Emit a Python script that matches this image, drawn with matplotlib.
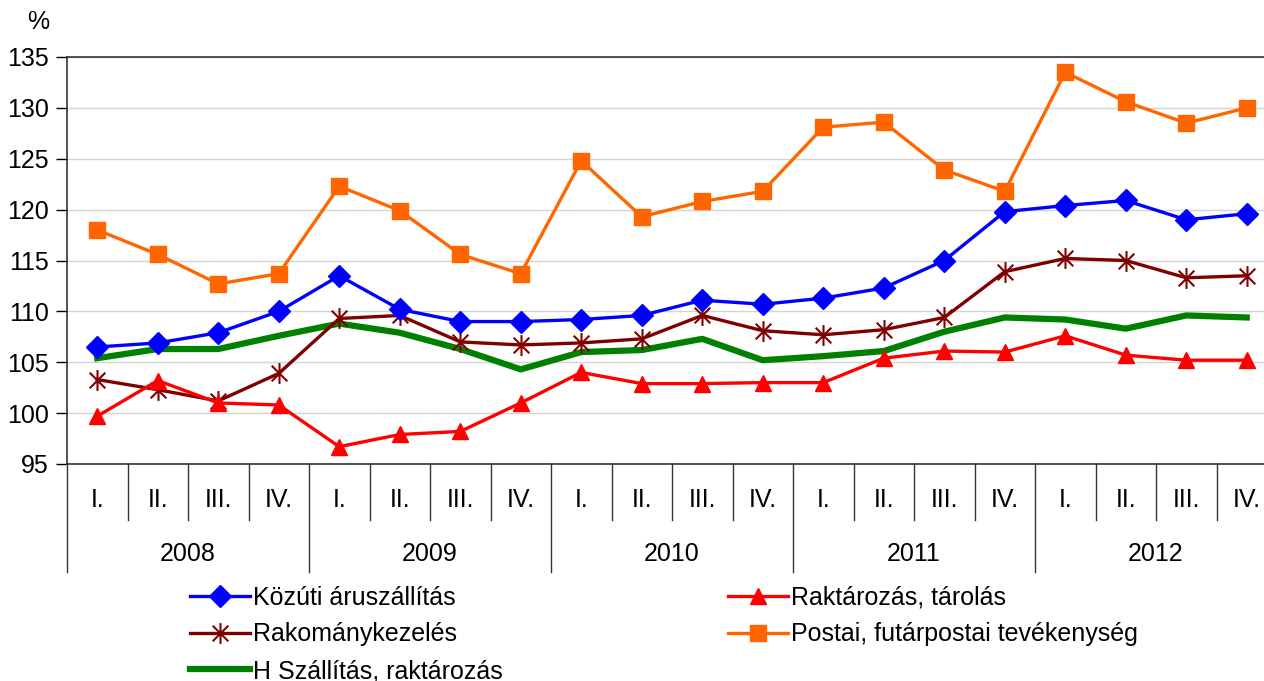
import matplotlib.pyplot as plt
from matplotlib.path import Path
from matplotlib.transforms import blended_transform_factory

plt.rcParams['font.family'] = ['Liberation Sans', 'DejaVu Sans']

quarters = ['I.', 'II.', 'III.', 'IV.'] * 5
years = ['2008', '2009', '2010', '2011', '2012']

kozuti = [106.5, 106.9, 107.9, 110.0, 113.5, 110.2, 109.0, 109.0, 109.2, 109.6,
          111.1, 110.7, 111.3, 112.3, 115.0, 119.8, 120.4, 120.9, 119.0, 119.6]
raktarozas = [99.7, 103.2, 101.0, 100.8, 96.7, 97.9, 98.2, 101.0, 104.0, 102.9,
              102.9, 103.0, 103.0, 105.4, 106.1, 106.0, 107.6, 105.7, 105.2, 105.2]
rakomany = [103.3, 102.3, 101.2, 103.9, 109.3, 109.6, 107.0, 106.7, 106.9, 107.3,
            109.6, 108.1, 107.7, 108.2, 109.4, 113.9, 115.2, 115.0, 113.3, 113.5]
postai = [118.0, 115.6, 112.7, 113.7, 122.3, 119.9, 115.6, 113.7, 124.8, 119.3,
          120.8, 121.8, 128.1, 128.6, 123.9, 121.8, 133.5, 130.6, 128.5, 130.0]
h_szallitas = [105.4, 106.3, 106.3, 107.6, 108.8, 107.9, 106.3, 104.3, 106.0, 106.2,
               107.3, 105.2, 105.6, 106.1, 108.0, 109.4, 109.2, 108.3, 109.6, 109.4]

x = list(range(len(quarters)))

# Excel-style star marker: vertical bar plus an X
star = Path([(0, -1), (0, 1), (-0.75, -0.75), (0.75, 0.75), (-0.75, 0.75), (0.75, -0.75)],
            [Path.MOVETO, Path.LINETO, Path.MOVETO, Path.LINETO, Path.MOVETO, Path.LINETO])

fig = plt.figure(figsize=(12.64, 6.81), dpi=100)
ax = fig.add_axes([67 / 1264, 1 - 464 / 681, 1210 / 1264, 407 / 681])

l1, = ax.plot(x, kozuti, color='#0000FF', lw=2.4, marker='D', ms=11, label='Közúti áruszállítás', zorder=5)
l3, = ax.plot(x, rakomany, color='#800000', lw=2.4, marker=star, ms=15, mew=1.5,
              label='Rakománykezelés', zorder=4)
l5, = ax.plot(x, h_szallitas, color='#008000', lw=4.5, label='H Szállítás, raktározás', zorder=3)
l2, = ax.plot(x, raktarozas, color='#FF0000', lw=2.4, marker='^', ms=12, label='Raktározás, tárolás', zorder=4)
l4, = ax.plot(x, postai, color='#FF6600', lw=2.4, marker='s', ms=11, label='Postai, futárpostai tevékenység', zorder=4)

ax.set_xlim(-0.5, 19.5)
ax.set_ylim(95, 135)
ax.set_yticks(range(95, 136, 5))
ax.tick_params(axis='y', labelsize=18, length=8, width=1, direction='out', pad=5)
ax.set_xticks([])
ax.grid(axis='y', color='#d4d4d4', lw=1)
ax.set_axisbelow(True)
for s in ['left', 'bottom', 'top']:
    ax.spines[s].set_color('#333333')
    ax.spines[s].set_linewidth(1.2)
ax.spines['right'].set_visible(False)

# two-level category axis
tr = blended_transform_factory(ax.transData, ax.transAxes)
for i, q in enumerate(quarters):
    ax.text(i, -0.088, q, transform=tr, ha='center', va='center', fontsize=18)
    if i > 0 and i % 4 != 0:
        ax.plot([i - 0.5, i - 0.5], [0, -0.138], transform=tr, color='#333333', lw=1, clip_on=False)
for j, yr in enumerate(years):
    ax.text(j * 4 + 1.5, -0.22, yr, transform=tr, ha='center', va='center', fontsize=18)
    ax.plot([j * 4 - 0.5, j * 4 - 0.5], [0, -0.265], transform=tr, color='#333333', lw=1, clip_on=False)

fig.text(38 / 1264, 1 - 22 / 681, '%', ha='center', va='center', fontsize=18)

fig.legend(handles=[l1, l3, l5, l2, l4], ncol=2, loc='upper left',
           bbox_to_anchor=(190 / 1264, 1 - 586 / 681), frameon=False, fontsize=18,
           handlelength=2.4, handletextpad=0.12, columnspacing=9.0, labelspacing=0.5,
           borderpad=0, borderaxespad=0)

fig.savefig('out.png', dpi=100)
